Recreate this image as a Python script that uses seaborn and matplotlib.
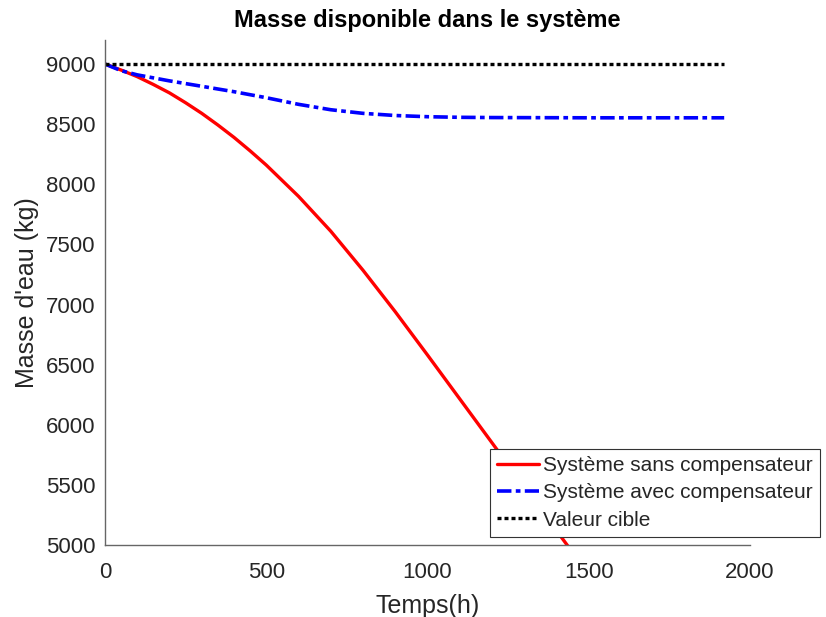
import numpy as np
import pandas as pd
import matplotlib
matplotlib.use("Agg")
import matplotlib.pyplot as plt
import seaborn as sns

# ---- data ----
t_sans = [0, 50, 100, 150, 200, 250, 300, 350, 400, 450, 500, 600, 700, 800, 900, 1000, 1100, 1200, 1300, 1400, 1500]
m_sans = [9000, 8950, 8895, 8830, 8760, 8678, 8590, 8493, 8390, 8278, 8160, 7900, 7610, 7285, 6940, 6580, 6215, 5850, 5485, 5120, 4755]

t_avec = [0, 50, 100, 200, 300, 400, 500, 600, 700, 800, 900, 1000, 1100, 1200, 1500, 1920]
m_avec = [9000, 8945, 8910, 8860, 8815, 8770, 8720, 8665, 8620, 8590, 8572, 8562, 8557, 8555, 8553, 8553]

t_cible = [0, 1920]
m_cible = [9000, 9000]

labels = ["Système sans compensateur", "Système avec compensateur", "Valeur cible"]
title = "Masse disponible dans le système"
xlabel = "Temps(h)"
ylabel = "Masse d'eau (kg)"
xticks = [0, 500, 1000, 1500, 2000]
yticks = [5000, 5500, 6000, 6500, 7000, 7500, 8000, 8500, 9000]

sns.set_theme(style="white")
plt.rcParams["font.family"] = ["Liberation Sans", "DejaVu Sans"]

fig = plt.figure(figsize=(8.26, 6.17), dpi=100)
ax = fig.add_axes([105/826, 1-545/617, (750-105)/826, (545-40)/617])

df_s = pd.DataFrame({"t": t_sans, "m": m_sans})
df_a = pd.DataFrame({"t": t_avec, "m": m_avec})
df_c = pd.DataFrame({"t": t_cible, "m": m_cible})

sns.lineplot(data=df_s, x="t", y="m", ax=ax, color="#ff0000", linewidth=2.4,
             label=labels[0], estimator=None, sort=False)
sns.lineplot(data=df_a, x="t", y="m", ax=ax, color="#0000ff", linewidth=2.6,
             label=labels[1], estimator=None, sort=False)
sns.lineplot(data=df_c, x="t", y="m", ax=ax, color="#000000", linewidth=2.4,
             label=labels[2], estimator=None, sort=False)
lines = ax.get_lines()
lines[1].set_dashes([4.0, 1.2, 1.3, 1.2])
lines[2].set_dashes([1.2, 0.9])

ax.set_xlim(0, 2000)
ax.set_ylim(5000, 9200)
ax.set_xticks(xticks)
ax.set_yticks(yticks)
ax.set_title(title, fontsize=17, fontweight="bold", color="black", pad=9)
ax.set_xlabel(xlabel, fontsize=18, color="#262626", labelpad=8)
ax.set_ylabel(ylabel, fontsize=18, color="#262626", labelpad=5)
ax.tick_params(axis="both", direction="in", length=5, width=0.8, color="#555555",
               labelsize=16, labelcolor="#262626")
ax.tick_params(axis="x", pad=12)
ax.tick_params(axis="y", pad=7)
for side in ["top", "right"]:
    ax.spines[side].set_visible(False)
for side in ["left", "bottom"]:
    ax.spines[side].set_color("#666666")
    ax.spines[side].set_linewidth(1.0)

leg = ax.legend(loc="lower left", bbox_to_anchor=(490/826, 1-537/617),
                bbox_transform=fig.transFigure, fontsize=15, frameon=True,
                fancybox=False, framealpha=1, edgecolor="#333333",
                handlelength=2.0, handletextpad=0.2, borderpad=0.35,
                labelspacing=0.4, borderaxespad=0)
leg.get_frame().set_linewidth(0.8)
leg.set_zorder(10)

fig.savefig("out.png", dpi=100)
